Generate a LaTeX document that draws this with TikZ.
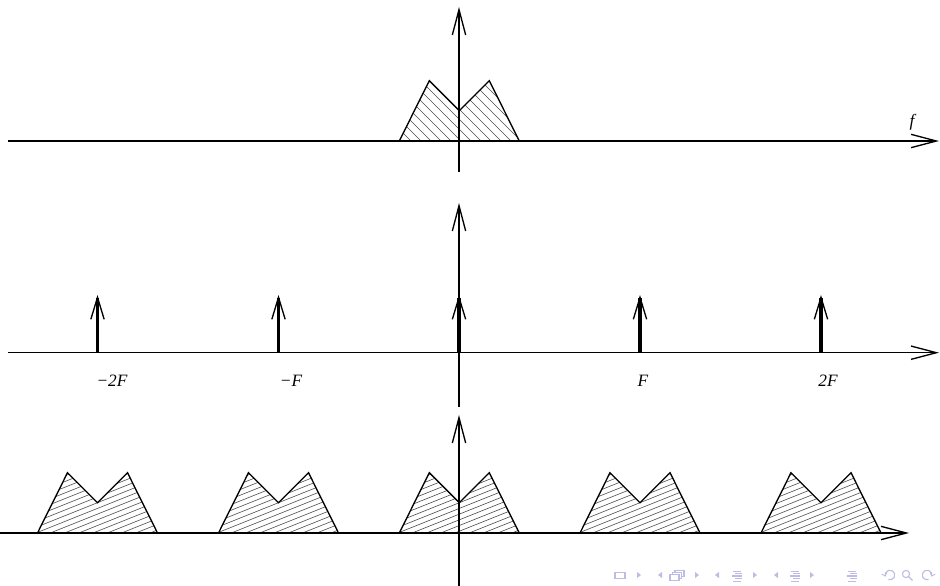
\documentclass[tikz,border=0pt]{standalone}
\usepackage{fontspec}
\setmainfont{Liberation Serif}
\usetikzlibrary{arrows.meta}
\definecolor{navc}{RGB}{188,188,228}
\begin{document}
\begin{tikzpicture}[x=0.75pt,y=-0.75pt,
  axis/.style={line width=1pt,-{Straight Barb[length=19pt,width=10pt,line width=1pt]}},
  imp/.style={line width=2.3pt,-{Straight Barb[length=16.5pt,width=10pt,line width=1pt]}},
  lbl/.style={font=\fontsize{13}{15}\selectfont\itshape, inner sep=0pt},
  hatch/.style={line width=0.45pt, black!70},
  spec/.style={line width=1pt, line join=miter},
  navl/.style={navc, line width=0.8pt},
  navf/.style={fill=navc}]
\useasboundingbox[fill=white] (0,0) rectangle (940,586);

% ---------- top panel ----------
\coordinate (t0) at (8,141);
\coordinate (t1) at (939,141);
\coordinate (tv0) at (459,172);
\coordinate (tv1) at (459,7);
\begin{scope}
  \clip (399.3,141) -- (429.3,80.7) -- (459.3,110.7) -- (489.3,80.7) -- (519.3,141) -- cycle;
  \foreach \c in {230,240,...,480} \draw[hatch] ({\c+50},50) -- ({\c+160},160);
\end{scope}
\draw[spec] (399.3,141) -- (429.3,80.7) -- (459.3,110.7) -- (489.3,80.7) -- (519.3,141);
\draw[axis] (t0) -- (t1);
\draw[axis] (tv0) -- (tv1);
\node[lbl] (flab) at (912,122) {f};

% ---------- middle panel ----------
\coordinate (m0) at (8,352.7);
\coordinate (m1) at (939,352.7);
\coordinate (mv0) at (459,407);
\coordinate (mv1) at (459,203);
\draw[axis] (m0) -- (m1);
\draw[axis] (mv0) -- (mv1);
\foreach \x/\n in {97.5/a,278.5/b,459/c,640/d,821/e}{
  \coordinate (i\n0) at (\x,352.7);
  \coordinate (i\n1) at (\x,295);
  \draw[imp] (i\n0) -- (i\n1);
}
\node[lbl] (l1) at (112,381) {\textminus2F};
\node[lbl] (l2) at (291,381) {\textminus F};
\node[lbl] (l3) at (643,381) {F};
\node[lbl] (l4) at (828,381) {2F};

% ---------- bottom panel ----------
\foreach \cx in {97.5,278.5,459.3,640,821}{
  \begin{scope}
    \clip ({\cx-60},533) -- ({\cx-30},472.7) -- (\cx,502.7) -- ({\cx+30},472.7) -- ({\cx+60},533) -- cycle;
    \foreach \k in {0,...,22}{
      \pgfmathsetmacro{\bb}{440+5.7*\k}
      \draw[hatch] ({\cx-70},{\bb+28}) -- ({\cx+70},{\bb-28});
    }
  \end{scope}
  \draw[spec] ({\cx-60},533) -- ({\cx-30},472.7) -- (\cx,502.7) -- ({\cx+30},472.7) -- ({\cx+60},533);
}
\coordinate (b0) at (0,533);
\coordinate (b1) at (909,533);
\coordinate (bv0) at (459,590);
\coordinate (bv1) at (459,415);
\draw[axis] (b0) -- (b1);
\draw[axis] (bv0) -- (bv1);

% ---------- navigation symbols ----------
\draw[navl] (615,572.5) rectangle (625,578.5);
\fill[navc] (637,572) -- (641,575) -- (637,578) -- cycle;
\fill[navc] (662,572) -- (658,575) -- (662,578) -- cycle;
\draw[navl,fill=white] (675,570.5) rectangle (684,576.5);
\draw[navl,fill=white] (672.5,572.5) rectangle (681.5,578.5);
\draw[navl,fill=white] (670,574.5) rectangle (679,580.5);
\fill[navc] (695,572) -- (699,575) -- (695,578) -- cycle;
\fill[navc] (719,572) -- (715,575) -- (719,578) -- cycle;
\foreach \xx in {732,790,847}{
  \draw[navl,line width=0.6pt] (\xx+1,571) -- (\xx+9,571);
  \draw[navl,line width=0.6pt] (\xx+3,573.5) -- (\xx+10,573.5);
  \draw[navl,line width=1pt] (\xx,576) -- (\xx+10,576);
  \draw[navl,line width=0.6pt] (\xx+3,578.5) -- (\xx+10,578.5);
  \draw[navl,line width=0.6pt] (\xx+1,581) -- (\xx+9,581);
}
\fill[navc] (753,572) -- (757,575) -- (753,578) -- cycle;
\fill[navc] (778,572) -- (774,575) -- (778,578) -- cycle;
\fill[navc] (810,572) -- (814,575) -- (810,578) -- cycle;
% undo arrow
\draw[navl,{Straight Barb[length=2.2pt,width=4pt,line width=0.7pt]}-] (890,575) ++(160:4.8) arc[start angle=160, end angle=470, radius=4.8];
% magnifier
\draw[navl] (906,574) circle[radius=3.6];
\draw[navl,line width=1pt] (908.7,576.7) -- (912.5,580.5);
% redo arrow
\draw[navl,{Straight Barb[length=2.2pt,width=4pt,line width=0.7pt]}-] (927,575) ++(20:4.8) arc[start angle=20, end angle=-290, radius=4.8];
\end{tikzpicture}
\end{document}
